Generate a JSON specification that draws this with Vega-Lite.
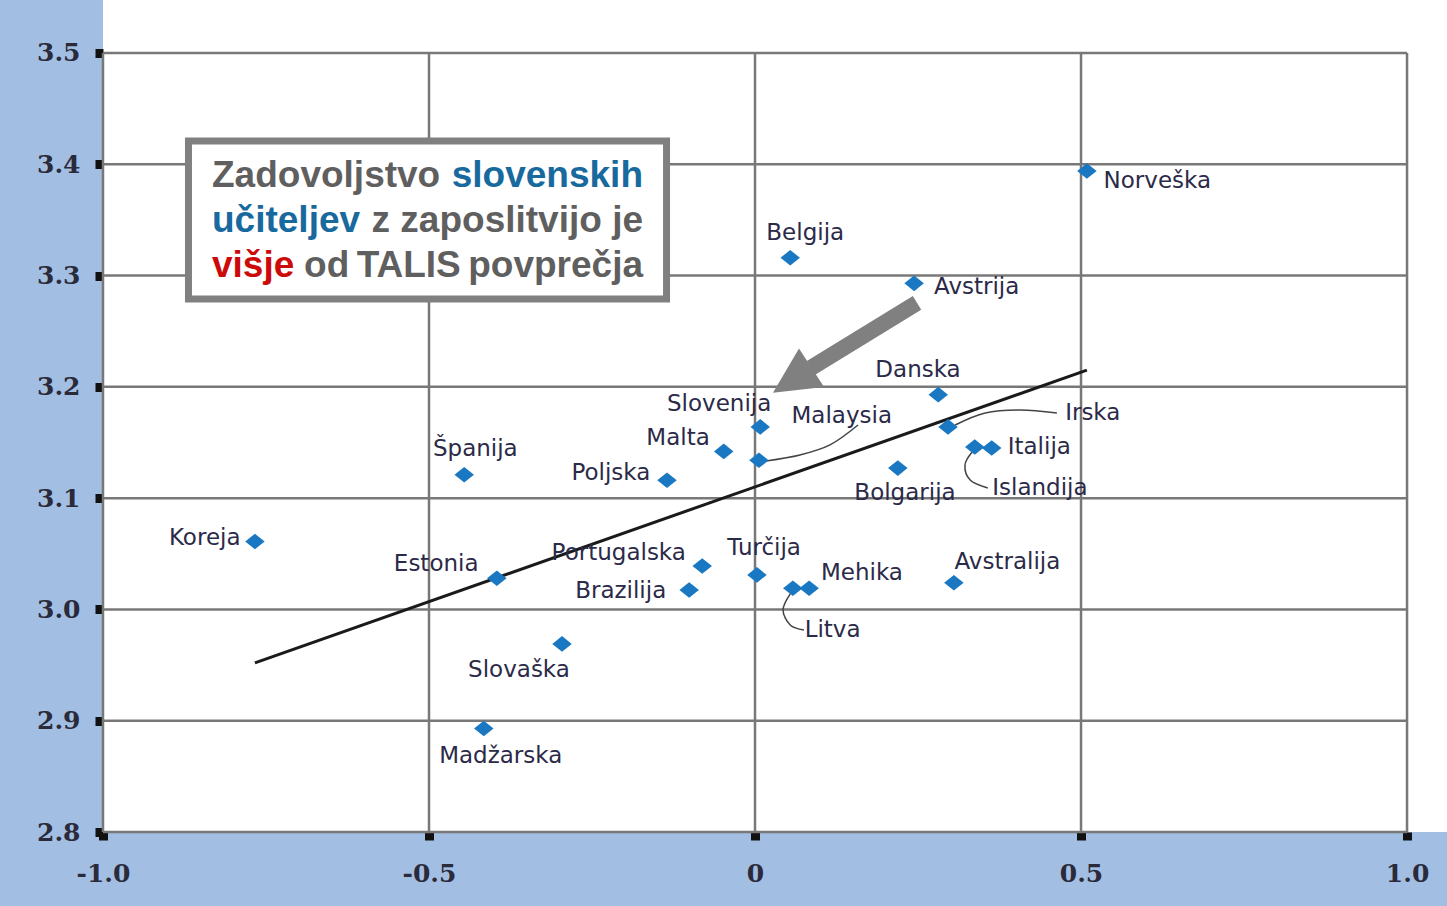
{
  "$schema": "https://vega.github.io/schema/vega-lite/v6.json",
  "width": 1344,
  "height": 832,
  "autosize": {"type": "none"},
  "padding": {"left": 103, "top": 0, "right": 0, "bottom": 74},
  "background": "#a3bee3",
  "config": {"view": {"fill": "#ffffff", "stroke": null}},
  "layer": [
    {
      "data": {"values": [{"g": -1}, {"g": -0.5}, {"g": 0}, {"g": 0.5}, {"g": 1}]},
      "mark": {"type": "rule", "color": "#787878", "strokeWidth": 2.5},
      "encoding": {
        "x": {
          "field": "g", "type": "quantitative", "scale": {"domain": [-1, 1.0613], "nice": false, "zero": false},
          "axis": {
            "values": [-1, -0.5, 0, 0.5, 1], "title": null, "grid": false, "domain": false,
            "tickSize": 8, "tickWidth": 9, "tickColor": "#111111",
            "labelFont": "DejaVu Serif", "labelFontSize": 25, "labelFontWeight": "bold", "labelColor": "#2a2a3a",
            "labelPadding": 21, "labelFlush": false, "labelOverlap": false,
            "labelExpr": "datum.value == 0 ? '0' : (datum.value < 0 ? '-' + format(-datum.value, '.1f') : format(datum.value, '.1f'))"
          }
        },
        "y": {"datum": 2.8, "type": "quantitative", "scale": {"domain": [2.8, 3.5476], "nice": false, "zero": false}, "axis": {"title": null}},
        "y2": {"datum": 3.5}
      }
    },
    {
      "data": {"values": [{"g": 2.8}, {"g": 2.9}, {"g": 3.0}, {"g": 3.1}, {"g": 3.2}, {"g": 3.3}, {"g": 3.4}, {"g": 3.5}]},
      "mark": {"type": "rule", "color": "#787878", "strokeWidth": 2.5},
      "encoding": {
        "y": {
          "field": "g", "type": "quantitative",
          "axis": {
            "values": [2.8, 2.9, 3.0, 3.1, 3.2, 3.3, 3.4, 3.5], "title": null, "grid": false, "domain": false,
            "tickSize": 8, "tickWidth": 9, "tickColor": "#111111",
            "labelFont": "DejaVu Serif", "labelFontSize": 25, "labelFontWeight": "bold", "labelColor": "#2a2a3a",
            "labelPadding": 15, "labelFlush": false, "labelOverlap": false,
            "labelExpr": "format(datum.value, '.1f')"
          }
        },
        "x": {"datum": -1, "type": "quantitative", "axis": {"title": null}},
        "x2": {"datum": 1}
      }
    },
    {
      "data": {"values": [{"x1": -0.767, "y1": 2.952, "x2": 0.509, "y2": 3.215}]},
      "mark": {"type": "rule", "color": "#1a1a1a", "strokeWidth": 3},
      "encoding": {
        "x": {"field": "x1", "type": "quantitative", "axis": {"title": null}},
        "y": {"field": "y1", "type": "quantitative", "axis": {"title": null}},
        "x2": {"field": "x2"},
        "y2": {"field": "y2"}
      }
    },
    {
      "data": {"values": [
        {"id": "Malaysia", "o": 1, "x": 0.0169, "y": 3.1334},
        {"id": "Malaysia", "o": 2, "x": 0.069, "y": 3.1388},
        {"id": "Malaysia", "o": 3, "x": 0.115, "y": 3.1478},
        {"id": "Malaysia", "o": 4, "x": 0.158, "y": 3.1657},
        {"id": "Irska", "o": 1, "x": 0.307, "y": 3.1657},
        {"id": "Irska", "o": 2, "x": 0.353, "y": 3.1765},
        {"id": "Irska", "o": 3, "x": 0.407, "y": 3.1792},
        {"id": "Irska", "o": 4, "x": 0.463, "y": 3.1765},
        {"id": "Islandija", "o": 1, "x": 0.333, "y": 3.1415},
        {"id": "Islandija", "o": 2, "x": 0.322, "y": 3.1298},
        {"id": "Islandija", "o": 3, "x": 0.330, "y": 3.1163},
        {"id": "Islandija", "o": 4, "x": 0.357, "y": 3.1091},
        {"id": "Litva", "o": 1, "x": 0.054, "y": 3.0139},
        {"id": "Litva", "o": 2, "x": 0.043, "y": 2.9995},
        {"id": "Litva", "o": 3, "x": 0.054, "y": 2.986},
        {"id": "Litva", "o": 4, "x": 0.075, "y": 2.9815}
      ]},
      "mark": {"type": "line", "color": "#444444", "strokeWidth": 1.5, "interpolate": "cardinal"},
      "encoding": {
        "x": {"field": "x", "type": "quantitative", "axis": {"title": null}},
        "y": {"field": "y", "type": "quantitative", "axis": {"title": null}},
        "detail": {"field": "id"},
        "order": {"field": "o", "type": "quantitative"}
      }
    },
    {
      "data": {"values": [
        {"name": "Norveška", "x": 0.509, "y": 3.394, "lx": 0.617, "ly": 3.385},
        {"name": "Belgija", "x": 0.054, "y": 3.316, "lx": 0.077, "ly": 3.338},
        {"name": "Avstrija", "x": 0.244, "y": 3.293, "lx": 0.340, "ly": 3.290},
        {"name": "Danska", "x": 0.281, "y": 3.193, "lx": 0.250, "ly": 3.215},
        {"name": "Irska", "x": 0.296, "y": 3.164, "lx": 0.518, "ly": 3.1765},
        {"name": "Italija", "x": 0.363, "y": 3.145, "lx": 0.436, "ly": 3.146},
        {"name": "Islandija", "x": 0.337, "y": 3.146, "lx": 0.437, "ly": 3.109},
        {"name": "Bolgarija", "x": 0.219, "y": 3.127, "lx": 0.230, "ly": 3.105},
        {"name": "Slovenija", "x": 0.008, "y": 3.164, "lx": -0.055, "ly": 3.185},
        {"name": "Malaysia", "x": 0.006, "y": 3.134, "lx": 0.133, "ly": 3.174},
        {"name": "Malta", "x": -0.048, "y": 3.142, "lx": -0.118, "ly": 3.154},
        {"name": "Poljska", "x": -0.135, "y": 3.116, "lx": -0.221, "ly": 3.1226},
        {"name": "Španija", "x": -0.446, "y": 3.121, "lx": -0.429, "ly": 3.144},
        {"name": "Koreja", "x": -0.767, "y": 3.061, "lx": -0.844, "ly": 3.064},
        {"name": "Estonia", "x": -0.396, "y": 3.028, "lx": -0.489, "ly": 3.041},
        {"name": "Portugalska", "x": -0.081, "y": 3.039, "lx": -0.209, "ly": 3.051},
        {"name": "Brazilija", "x": -0.101, "y": 3.0175, "lx": -0.206, "ly": 3.0166},
        {"name": "Turčija", "x": 0.003, "y": 3.031, "lx": 0.014, "ly": 3.055},
        {"name": "Litva", "x": 0.058, "y": 3.019, "lx": 0.119, "ly": 2.9815},
        {"name": "Mehika", "x": 0.083, "y": 3.019, "lx": 0.164, "ly": 3.033},
        {"name": "Avstralija", "x": 0.305, "y": 3.024, "lx": 0.387, "ly": 3.043},
        {"name": "Slovaška", "x": -0.296, "y": 2.969, "lx": -0.362, "ly": 2.9456},
        {"name": "Madžarska", "x": -0.416, "y": 2.893, "lx": -0.390, "ly": 2.8683}
      ]},
      "layer": [
        {
          "mark": {"type": "point", "shape": "M0,-0.8L1,0L0,0.8L-1,0Z", "size": 380, "filled": true, "color": "#1a78c2", "opacity": 1},
          "encoding": {
            "x": {"field": "x", "type": "quantitative", "axis": {"title": null}},
            "y": {"field": "y", "type": "quantitative", "axis": {"title": null}}
          }
        },
        {
          "mark": {"type": "text", "font": "DejaVu Sans", "fontSize": 23, "color": "#2b2a48", "align": "center", "baseline": "middle"},
          "encoding": {
            "x": {"field": "lx", "type": "quantitative", "axis": {"title": null}},
            "y": {"field": "ly", "type": "quantitative", "axis": {"title": null}},
            "text": {"field": "name"}
          }
        }
      ]
    },
    {
      "data": {"values": [{"x1": -0.8689, "x2": -0.1357, "y1": 3.4209, "y2": 3.2790}]},
      "mark": {"type": "rect", "fill": "#ffffff", "stroke": "#808080", "strokeWidth": 7},
      "encoding": {
        "x": {"field": "x1", "type": "quantitative", "axis": {"title": null}},
        "x2": {"field": "x2"},
        "y": {"field": "y1", "type": "quantitative", "axis": {"title": null}},
        "y2": {"field": "y2"}
      }
    },
    {
      "data": {"values": [
        {"t": "Zadovoljstvo", "k": "plain", "side": "left", "x": -0.8328, "y": 3.3796},
        {"t": "slovenskih", "k": "blue", "side": "right", "x": -0.1718, "y": 3.3796},
        {"t": "učiteljev", "k": "blue", "side": "left", "x": -0.8328, "y": 3.3392},
        {"t": "z zaposlitvijo je", "k": "plain", "side": "right", "x": -0.1718, "y": 3.3392},
        {"t": "višje", "k": "red", "side": "left", "x": -0.8328, "y": 3.2987},
        {"t": "od\u2009TALIS\u2009povprečja", "k": "plain", "side": "right", "x": -0.1718, "y": 3.2987}
      ]},
      "layer": [
        {
          "transform": [{"filter": "datum.side == 'left'"}],
          "mark": {"type": "text", "font": "Liberation Sans", "fontWeight": "bold", "fontSize": 37, "align": "left", "baseline": "alphabetic"},
          "encoding": {
            "x": {"field": "x", "type": "quantitative", "axis": {"title": null}},
            "y": {"field": "y", "type": "quantitative", "axis": {"title": null}},
            "text": {"field": "t"},
            "color": {"field": "k", "type": "nominal", "scale": {"domain": ["plain", "blue", "red"], "range": ["#5f5f5f", "#18699e", "#cc0a0a"]}, "legend": null}
          }
        },
        {
          "transform": [{"filter": "datum.side == 'right'"}],
          "mark": {"type": "text", "font": "Liberation Sans", "fontWeight": "bold", "fontSize": 37, "align": "right", "baseline": "alphabetic"},
          "encoding": {
            "x": {"field": "x", "type": "quantitative", "axis": {"title": null}},
            "y": {"field": "y", "type": "quantitative", "axis": {"title": null}},
            "text": {"field": "t"},
            "color": {"field": "k", "type": "nominal", "scale": {"domain": ["plain", "blue", "red"], "range": ["#5f5f5f", "#18699e", "#cc0a0a"]}, "legend": null}
          }
        }
      ]
    },
    {
      "data": {"values": [{"x1": 0.2485, "y1": 3.2754, "x2": 0.0859, "y2": 3.2170}]},
      "mark": {"type": "rule", "color": "#808080", "strokeWidth": 16, "strokeCap": "butt"},
      "encoding": {
        "x": {"field": "x1", "type": "quantitative", "axis": {"title": null}},
        "y": {"field": "y1", "type": "quantitative", "axis": {"title": null}},
        "x2": {"field": "x2"},
        "y2": {"field": "y2"}
      }
    },
    {
      "data": {"values": [{"x": 0.0571, "y": 3.2059}]},
      "mark": {"type": "point", "shape": "M0,-1L1,1L-1,1Z", "size": 2116, "filled": true, "color": "#808080", "opacity": 1, "angle": 237},
      "encoding": {
        "x": {"field": "x", "type": "quantitative", "axis": {"title": null}},
        "y": {"field": "y", "type": "quantitative", "axis": {"title": null}}
      }
    }
  ]
}
